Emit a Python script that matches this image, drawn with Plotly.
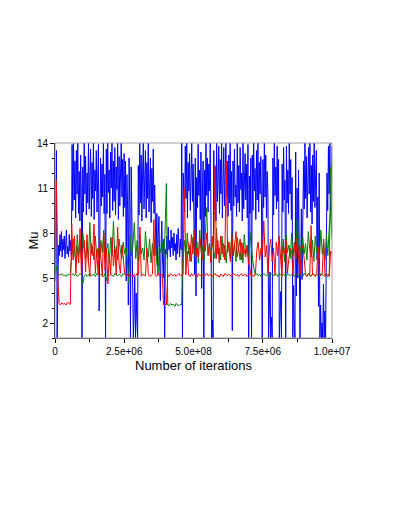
import plotly.graph_objects as go

# MCMC trace of Mu, three chains (blue, green, red), thinned samples
total_iterations = 10000000

blue_mu = [
    4.8, 9.0, 13.5, 1.0, 5.5,
    7.2, 6.5, 7.9, 6.8, 8.1, 6.4, 7.6, 6.9, 7.8, 6.3, 7.4, 8.2, 6.6, 7.1, 6.4, 7.9, 6.8, 7.5, 6.5,
    13.9, 9.5, 14.0, 10.2, 12.8, 9.0, 13.5, 10.6, 14.0, 9.3, 12.1, 8.8, 13.2, 10.4,
    1.0,
    12.4, 9.4, 14.0, 10.6, 13.1, 9.2, 12.0, 10.0, 14.0, 9.6, 11.8, 13.6, 9.1, 12.7, 10.3, 14.0,
    8.9, 12.2, 10.8, 13.5, 9.4, 11.6, 13.9, 2.8, 10.2, 13.0, 9.8, 12.6, 10.4, 14.0, 9.3, 11.9,
    1.0,
    13.6, 9.3, 14.0, 10.7, 12.2, 9.0, 13.4, 11.0, 14.0, 9.5, 12.8, 10.1, 13.7,
    9.2, 12.4, 10.9, 14.0, 8.9, 13.1, 9.8, 12.0, 14.0, 10.4, 12.9, 9.1, 13.3,
    9.7, 12.8, 4.8, 11.9, 9.6, 3.2, 13.0, 10.2, 1.0, 12.4, 9.0,
    3.5, 1.0, 2.6, 5.1, 1.0, 4.0, 2.2, 1.0,
    12.5, 9.2, 14.0, 10.0, 13.2, 8.8, 12.0, 14.0, 9.6, 11.4, 13.5, 9.0,
    12.7, 10.3, 14.0, 9.4, 11.8, 13.0, 8.7, 12.3, 10.1, 13.6, 9.3, 11.2,
    8.6, 6.5, 9.3, 5.8, 8.0, 9.1, 6.2, 3.5, 7.2, 8.8, 6.4, 5.0, 7.6, 1.0, 6.9,
    6.6, 7.8, 6.3, 8.4, 6.9, 7.5, 6.4, 8.2, 7.0, 7.7, 6.5, 8.0, 6.8, 7.3, 6.2, 7.9, 6.6, 8.3, 7.1, 6.4, 7.6, 6.9,
    14.0, 1.0, 12.0, 9.6,
    9.4, 13.8, 10.3, 14.0, 9.0, 12.7, 10.8, 13.3, 9.5, 11.5, 14.0, 10.1, 12.6, 9.2,
    5.2, 13.0, 3.8, 11.7, 9.7, 13.9, 10.5, 12.2, 8.9, 13.4, 4.3, 10.6, 12.8,
    1.0,
    12.2, 9.1, 14.0, 10.5, 13.0, 9.4, 12.6, 10.8, 14.0, 9.2,
    1.0, 2.2, 1.0,
    13.5, 9.6, 12.4, 8.8, 14.0, 10.1, 11.6, 13.8, 9.3, 12.9, 10.6, 14.0, 9.0,
    12.2, 13.7, 9.8, 11.3, 14.0, 10.4, 12.8, 9.1, 13.2, 10.0, 14.0, 9.5, 12.1,
    1.5,
    12.8, 9.8, 13.6, 10.4, 11.2, 9.1, 14.0, 10.0, 12.5, 9.4, 13.7,
    10.9, 12.0, 8.8, 14.0, 9.6, 11.9, 13.3, 10.2, 12.6, 9.0, 13.9,
    1.0, 11.8, 9.3, 13.0, 1.0, 13.2,
    9.5, 14.0, 10.8, 12.3, 8.9, 13.5, 10.2, 14.0, 9.4, 12.7, 10.6, 13.1, 9.8,
    1.0,
    12.9, 9.7, 14.0, 10.4, 13.2, 9.0, 12.1, 10.7,
    1.0, 3.0, 5.4, 1.0, 2.4, 1.0,
    13.0, 9.2, 14.0, 10.5, 12.4, 9.6, 13.8, 10.1, 12.9,
    1.0, 2.5, 4.1, 1.0,
    12.6, 9.4, 13.7, 10.2, 11.5,
    1.0,
    13.8, 10.0, 12.2, 9.3, 14.0, 10.6, 12.9, 8.9, 11.7,
    1.0, 4.5, 2.0, 1.0,
    13.4, 3.8, 11.0, 5.0, 12.2, 4.2,
    1.0,
    5.8, 9.6, 4.9, 12.3,
    12.8, 9.6, 14.0, 10.3, 13.1, 9.0, 12.0, 13.7, 10.6, 14.0, 9.4, 12.5,
    8.6, 13.2, 10.1, 14.0, 9.7, 11.8, 13.5, 6.2, 10.4, 3.1, 12.0,
    1.0, 3.2, 1.0, 2.0, 1.0, 4.6, 1.0, 2.8, 1.0, 5.5,
    12.0, 9.5, 13.8, 10.6, 14.0, 9.2, 12.7, 13.8,
]

red_mu = [
    6.9, 11.5, 5.0, 3.3,
    3.2, 3.35, 3.25, 3.3, 3.2, 3.4, 3.3, 3.25,
    8.6,
    6.2, 7.8, 5.3, 7.1, 6.0, 8.3, 5.2, 6.8, 7.5, 5.4,
    7.9, 6.1, 5.1, 7.3, 6.5, 8.6, 5.3, 6.9, 5.2, 7.6,
    6.3, 5.1, 8.0, 5.5, 7.0, 4.6, 6.6, 5.2, 7.7, 5.8,
    6.9, 5.2, 8.4, 6.0, 5.3, 7.2, 6.4,
    5.3, 5.15, 5.25, 5.1, 5.3, 5.2, 5.05, 5.25, 5.15, 5.3,
    5.2, 8.4, 5.1, 5.25, 5.2, 5.15, 7.0, 5.3, 5.1, 5.2,
    5.25, 8.9, 5.2, 5.1, 5.3, 5.15, 5.2, 5.25,
    3.2, 3.3, 3.2,
    5.2, 5.1, 5.3, 5.2, 5.15, 5.25, 5.1, 5.2, 5.3, 5.15,
    5.2, 5.25, 11.0, 5.2, 6.8,
    5.2, 5.1, 5.3, 5.15, 5.25, 5.2, 5.05, 5.3, 5.15, 5.2,
    5.25, 5.1, 5.2, 5.3, 5.15, 5.2, 5.25, 5.1, 5.2, 5.3,
    5.15, 5.2, 5.05, 5.25, 5.2, 5.1, 5.3, 5.2, 5.15, 5.25,
    5.2, 5.1, 5.3, 5.2, 5.15, 5.25, 5.1, 5.2, 5.3, 5.15,
    5.2, 5.25, 5.1, 5.2, 5.3, 5.15,
    5.2, 5.1, 5.3, 6.9, 7.4, 6.2, 7.0, 6.6,
    8.8, 6.4, 7.2, 5.3, 6.9, 7.6, 6.1, 7.0, 5.2, 7.4,
    6.5, 7.8, 6.2, 5.1, 7.1, 6.6, 7.5, 5.3, 6.3, 7.0,
    6.8, 5.2, 7.3, 6.4, 7.6, 6.1, 5.2, 6.9, 7.2, 6.3,
    5.2, 5.1, 5.3, 5.15, 8.5, 5.2, 5.25, 5.1, 5.3, 7.1,
    5.2, 5.15, 5.3, 7.6, 5.1, 5.2, 5.25, 5.1,
    6.8, 6.6,
]

# second red component, only while the chain splits into two levels
red_mu_2 = [None] * 96 + [
    7.4, 6.1, 7.9, 6.6, 8.2, 6.3, 7.0, 6.4, 7.7, 6.9,
    6.2, 7.5, 6.8, 8.0, 6.5, 7.2, 6.0, 7.8, 6.7, 12.5,
    6.3, 7.5, 6.0, 7.8, 6.6, 7.3, 6.2, 12.8, 6.7, 7.4,
    6.1, 7.9, 6.5, 7.1, 8.1, 6.4, 6.9, 7.6, 6.2, 7.3,
    6.8, 6.4, 7.2, 6.0, 5.6, 5.2,
] + [None] * 58

green_mu = [
    5.2, 5.8, 5.1, 5.25, 5.2, 5.3, 5.15, 5.2, 5.1, 5.25, 5.2, 5.3,
    6.4, 7.6, 6.8, 6.1, 7.9, 6.5, 7.2, 6.2, 8.0, 6.9,
    6.3, 7.4, 6.0, 8.7, 6.6, 7.1, 6.2, 7.8, 6.4, 7.0,
    6.1, 7.5, 6.7, 8.2, 6.3, 6.9, 7.3, 6.0, 7.7, 6.5,
    8.8, 6.4, 7.1, 6.2, 7.6, 6.8, 6.3, 7.4, 6.6,
    7.0, 6.2, 4.6, 7.8, 6.5, 7.2, 8.7, 6.3, 7.5, 6.1,
    7.9, 6.6, 7.0, 6.2, 8.1, 6.8, 6.4, 7.6, 6.0, 7.3,
    6.5, 7.8, 6.2, 5.2, 7.1, 6.7, 7.4, 6.3, 7.9,
    11.3, 3.2,
    3.15, 3.3, 3.2, 3.25, 3.1, 3.3, 3.2, 3.15, 3.25, 3.2,
    6.8, 7.5, 6.2, 8.0, 6.6, 7.2, 6.1, 7.7, 6.9, 6.3,
    7.4, 6.0, 8.2, 6.7, 7.1, 6.2, 7.9, 9.7, 6.5, 7.3,
    6.1, 7.6, 6.8, 6.3, 8.3, 6.6, 7.0, 6.2, 7.8, 6.4,
    7.2, 6.0, 7.5, 6.9, 6.3, 8.0, 6.5, 7.3, 6.1, 7.7,
    6.7, 6.2, 7.4, 6.0, 7.9, 6.6, 7.1, 6.3, 8.1, 6.8,
    6.2, 5.6,
    5.2, 5.3, 5.15, 5.25, 5.1, 5.2, 5.3, 5.2, 5.15, 5.25,
    5.1, 5.2, 5.3, 5.15, 5.2, 5.25, 5.1, 5.3, 5.2, 5.15,
    5.25, 5.2, 5.1, 5.3, 5.2, 5.15, 5.25, 5.2, 5.1, 5.3,
    5.2, 5.15, 5.25, 5.2, 5.1, 5.3, 5.2, 5.15, 5.25, 5.2,
    5.1, 5.3, 5.2, 5.15, 5.25, 5.2, 5.1, 5.3, 5.2, 5.15,
    5.25, 5.2, 5.1, 5.3,
    12.4, 8.0,
]

green_mu_2 = [None] * 12 + [
    5.2, 5.3, 5.15, 5.25, 5.1, 5.2, 5.3, 5.2, 4.6, 5.15,
    5.25, 5.1, 5.2, 5.3, 5.15, 5.2, 5.25, 5.1, 5.3, 5.2,
    5.15, 5.25, 5.2, 5.1, 5.3, 4.8, 5.2, 5.15, 5.25, 5.2,
    5.1, 5.3, 5.2, 5.15, 5.25, 5.2, 5.1, 5.3, 5.2,
] + [None] * 112 + [
    6.4, 7.6, 6.1, 7.9, 6.7, 7.2, 6.3, 8.0, 6.5, 7.4,
    6.2, 8.9, 6.8, 7.1, 6.0, 7.7, 6.6, 7.3, 6.2, 8.1,
    6.9, 6.4, 7.5, 6.1, 7.8, 6.7, 7.0, 6.3, 8.2, 6.6,
    7.4, 6.2, 7.9, 6.5, 8.4, 9.5, 7.6,
]

x_tickvals = [0, 2500000, 5000000, 7500000, 10000000]
x_ticktext = ['0', '2.5e+06', '5.0e+08', '7.5e+06', '1.0e+07']
y_tickvals = [2, 5, 8, 11, 14]


def iteration_grid(values):
    n = len(values)
    return [round(i * total_iterations / (n - 1)) for i in range(n)]


fig = go.Figure()
fig.add_trace(go.Scatter(x=iteration_grid(blue_mu), y=blue_mu, mode='lines',
                         line=dict(color='#0000ff', width=1)))
fig.add_trace(go.Scatter(x=iteration_grid(green_mu), y=green_mu, mode='lines',
                         line=dict(color='#008000', width=1)))
fig.add_trace(go.Scatter(x=iteration_grid(green_mu_2), y=green_mu_2, mode='lines',
                         line=dict(color='#008000', width=1)))
fig.add_trace(go.Scatter(x=iteration_grid(red_mu), y=red_mu, mode='lines',
                         line=dict(color='#ff0000', width=1)))
fig.add_trace(go.Scatter(x=iteration_grid(red_mu_2), y=red_mu_2, mode='lines',
                         line=dict(color='#ff0000', width=1)))

# light grey frame on top and right, darker axes on left and bottom
fig.add_shape(type='rect', xref='paper', yref='paper', x0=0, y0=0, x1=1, y1=1,
              line=dict(color='#a0a0a0', width=1), layer='above')

fig.add_annotation(text='Mu', xref='paper', yref='paper', x=0, y=0.5, xshift=-22,
                   xanchor='center', yanchor='middle',
                   textangle=-90, showarrow=False, font=dict(size=13))
fig.add_annotation(text='Number of iterations', xref='paper', yref='paper', x=0.5, y=0,
                   yshift=-27, xanchor='center', yanchor='middle',
                   showarrow=False, font=dict(size=13))

fig.update_layout(
    width=390, height=507,
    margin=dict(l=47, r=66, t=135, b=177, autoexpand=False),
    paper_bgcolor='white', plot_bgcolor='white',
    showlegend=False,
    font=dict(family='Liberation Sans, Arial, sans-serif', color='black'),
    xaxis=dict(
        range=[0, total_iterations], tickvals=x_tickvals, ticktext=x_ticktext,
        ticks='outside', ticklen=4, tickcolor='black', tickfont=dict(size=10),
        minor=dict(tickvals=[1250000, 3750000, 6250000, 8750000], ticks='outside', ticklen=3, tickcolor='black'),
        showgrid=False, zeroline=False, showline=True, linecolor='#404040', linewidth=1,
        automargin=False,
    ),
    yaxis=dict(
        range=[1, 14], tickvals=y_tickvals,
        ticks='outside', ticklen=4, tickcolor='black', tickfont=dict(size=10),
        minor=dict(dtick=1, ticks='outside', ticklen=2, tickcolor='black'),
        showgrid=False, zeroline=False, showline=True, linecolor='black', linewidth=1,
        automargin=False,
    ),
)

fig.write_html('out.html')
